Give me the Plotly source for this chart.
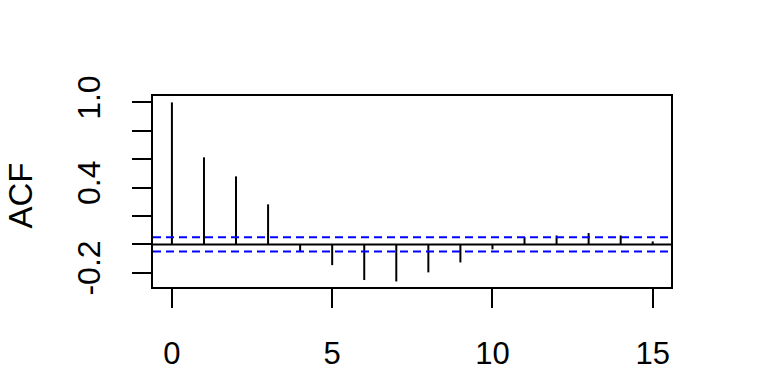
import plotly.graph_objects as go

lags = list(range(16))
acf_vals = [1.0, 0.613, 0.479, 0.282, -0.047, -0.146, -0.251, -0.261,
            -0.197, -0.127, -0.035, 0.052, 0.063, 0.080, 0.063, 0.021]
ci = 0.05
x_ticks = [0, 5, 10, 15]
y_ticks = [-0.2, 0.0, 0.2, 0.4, 0.6, 0.8, 1.0]
y_tick_text = ["-0.2", "", "", "0.4", "", "", "1.0"]

xs, ys = [], []
for k, v in zip(lags, acf_vals):
    xs += [k, k, None]
    ys += [0, v, None]

FONT = "Liberation Sans, Arial, sans-serif"
fig = go.Figure()
fig.add_trace(go.Scatter(x=xs, y=ys, mode="lines",
                         line=dict(color="black", width=2), hoverinfo="skip",
                         showlegend=False))
fig.add_hline(y=0, line=dict(color="black", width=2))
fig.add_hline(y=ci, line=dict(color="#0000FF", width=2, dash="8px,5px"))
fig.add_hline(y=-ci, line=dict(color="#0000FF", width=2, dash="8px,5px"))

fig.update_layout(
    width=768, height=384,
    margin=dict(l=153, r=97, t=96, b=97),
    plot_bgcolor="white", paper_bgcolor="white",
    font=dict(family=FONT, size=31, color="black"),
    showlegend=False,
    xaxis=dict(range=[-0.59, 15.57], tickvals=x_ticks, ticks="outside",
               ticklen=19, tickwidth=2, tickcolor="black",
               showline=True, linewidth=2, linecolor="black", mirror=True,
               showgrid=False, zeroline=False, ticklabelstandoff=19),
    yaxis=dict(range=[-0.30, 1.045], tickvals=y_ticks, ticktext=y_tick_text,
               ticks="outside", ticklen=19, tickwidth=2, tickcolor="black",
               tickangle=-90, tickfont=dict(size=32),
               showline=True, linewidth=2, linecolor="black", mirror=True,
               showgrid=False, zeroline=False, ticklabelstandoff=19),
    annotations=[dict(text="ACF", xref="paper", yref="paper", x=0, y=0.5,
                      xanchor="center", yanchor="middle", textangle=-90,
                      xshift=-133, yshift=-4, showarrow=False,
                      font=dict(family=FONT, size=33, color="black"))],
)
fig.write_html("out.html")
